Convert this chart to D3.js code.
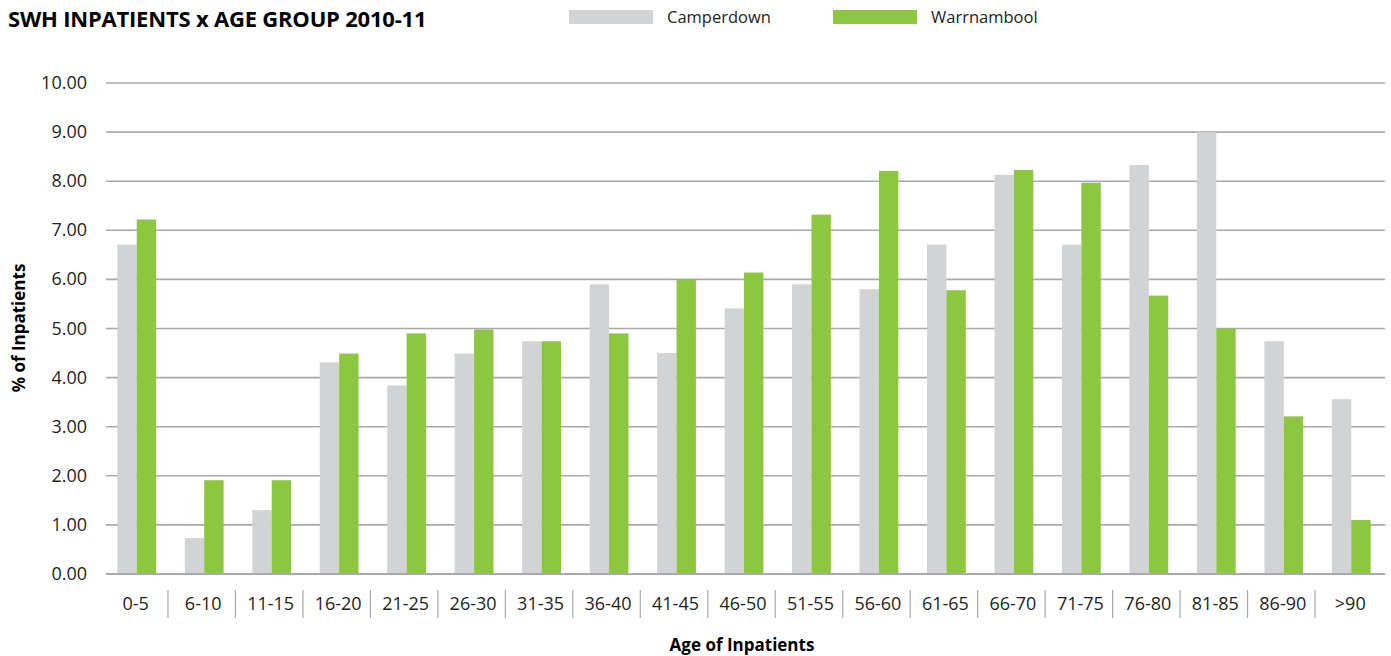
<!DOCTYPE html>
<html>
<head>
<meta charset="utf-8">
<script src="https://cdn.jsdelivr.net/npm/d3@7"></script>
<style>
  body { margin: 0; background: #fff; }
  text { font-family: "Open Sans", "Noto Sans", sans-serif; }
</style>
</head>
<body>
<script>
/* ===== data ===== */
var ageGroups = ["0-5", "6-10", "11-15", "16-20", "21-25", "26-30", "31-35", "36-40", "41-45", "46-50",
    "51-55", "56-60", "61-65", "66-70", "71-75", "76-80", "81-85", "86-90", ">90"];
var camperdown = [6.71, 0.73, 1.30, 4.31, 3.84, 4.49, 4.74, 5.90, 4.50, 5.41,
    5.90, 5.80, 6.71, 8.13, 6.71, 8.33, 9.00, 4.74, 3.56];
var warrnambool = [7.22, 1.91, 1.91, 4.49, 4.90, 4.98, 4.74, 4.90, 6.00, 6.14,
    7.32, 8.21, 5.78, 8.23, 7.97, 5.67, 5.00, 3.21, 1.10];
var seriesNames = ["Camperdown", "Warrnambool"];
var yTicks = [0, 1, 2, 3, 4, 5, 6, 7, 8, 9, 10];

/* ===== constants ===== */
var w = 1391, h = 656;
var greyColor = "#d1d3d4";
var greenColor = "#8dc63f";
var gridColor = "#a7a9ac";
var textColor = "#231f20";
// plot bounds (not named top/left: those clash with window globals)
var plotLeft = 102, plotRight = 1384, plotTop = 83, plotBottom = 574;
var gridLeft = 106, gridRight = 1385;

var svg = d3.select("body").append("svg")
    .attr("width", w)
    .attr("height", h);

var xScale = d3.scaleBand()
    .domain(ageGroups)
    .range([plotLeft, plotRight]);
var yScale = d3.scaleLinear()
    .domain([0, 10])
    .range([plotBottom, plotTop]);
var barW = 19.4;

// grid lines
svg.append("g").selectAll("line")
    .data(yTicks)
    .enter().append("line")
    .attr("x1", gridLeft)
    .attr("x2", gridRight)
    .attr("y1", function (d) { return yScale(d); })
    .attr("y2", function (d) { return yScale(d); })
    .attr("stroke", gridColor)
    .attr("stroke-width", 1.6);

// y tick labels
svg.append("g").selectAll("text")
    .data(yTicks)
    .enter().append("text")
    .attr("x", 87)
    .attr("y", function (d) { return yScale(d) + 6; })
    .attr("text-anchor", "end")
    .attr("font-size", "18px")
    .attr("fill", textColor)
    .text(function (d) { return d3.format(".2f")(d); });

// bars
var groups = svg.append("g").selectAll("g")
    .data(ageGroups)
    .enter().append("g")
    .attr("transform", function (d) { return "translate(" + (xScale(d) + xScale.bandwidth() / 2 + 1) + ",0)"; });
groups.append("rect")
    .attr("x", -barW)
    .attr("width", barW)
    .attr("y", function (d, i) { return yScale(camperdown[i]); })
    .attr("height", function (d, i) { return plotBottom - yScale(camperdown[i]); })
    .attr("fill", greyColor);
groups.append("rect")
    .attr("x", 0)
    .attr("width", barW)
    .attr("y", function (d, i) { return yScale(warrnambool[i]); })
    .attr("height", function (d, i) { return plotBottom - yScale(warrnambool[i]); })
    .attr("fill", greenColor);

// baseline
svg.append("line")
    .attr("x1", gridLeft).attr("x2", gridRight)
    .attr("y1", plotBottom).attr("y2", plotBottom)
    .attr("stroke", gridColor)
    .attr("stroke-width", 2);

// x labels and separators
svg.append("g").selectAll("text")
    .data(ageGroups)
    .enter().append("text")
    .attr("x", function (d) { return xScale(d) + xScale.bandwidth() / 2; })
    .attr("y", 610)
    .attr("text-anchor", "middle")
    .attr("font-size", "18px")
    .attr("fill", textColor)
    .text(function (d) { return d; });
svg.append("g").selectAll("line")
    .data(ageGroups.slice(1))
    .enter().append("line")
    .attr("x1", function (d) { return xScale(d) - 1.5; })
    .attr("x2", function (d) { return xScale(d) - 1.5; })
    .attr("y1", 590)
    .attr("y2", 618)
    .attr("stroke", gridColor)
    .attr("stroke-width", 1.2);

// titles
svg.append("text")
    .attr("x", 8)
    .attr("y", 27)
    .attr("font-size", "22px")
    .attr("font-weight", "bold")
    .attr("letter-spacing", "-0.2px")
    .attr("fill", "#000")
    .text("SWH INPATIENTS x AGE GROUP 2010-11");
svg.append("text")
    .attr("x", 742)
    .attr("y", 651)
    .attr("text-anchor", "middle")
    .attr("font-size", "17px")
    .attr("font-weight", "bold")
    .attr("fill", "#000")
    .text("Age of Inpatients");
svg.append("text")
    .attr("transform", "translate(25,328) rotate(-90)")
    .attr("text-anchor", "middle")
    .attr("font-size", "17px")
    .attr("font-weight", "bold")
    .attr("fill", "#000")
    .text("% of Inpatients");

// legend
var legendX = [569, 833];
var legendColors = [greyColor, greenColor];
var legend = svg.append("g").selectAll("g")
    .data(seriesNames)
    .enter().append("g")
    .attr("transform", function (d, i) { return "translate(" + legendX[i] + ",10)"; });
legend.append("rect")
    .attr("width", 84)
    .attr("height", 14)
    .attr("fill", function (d, i) { return legendColors[i]; });
legend.append("text")
    .attr("x", 98)
    .attr("y", 13)
    .attr("font-size", "16.5px")
    .attr("fill", textColor)
    .text(function (d) { return d; });
</script>
</body>
</html>
